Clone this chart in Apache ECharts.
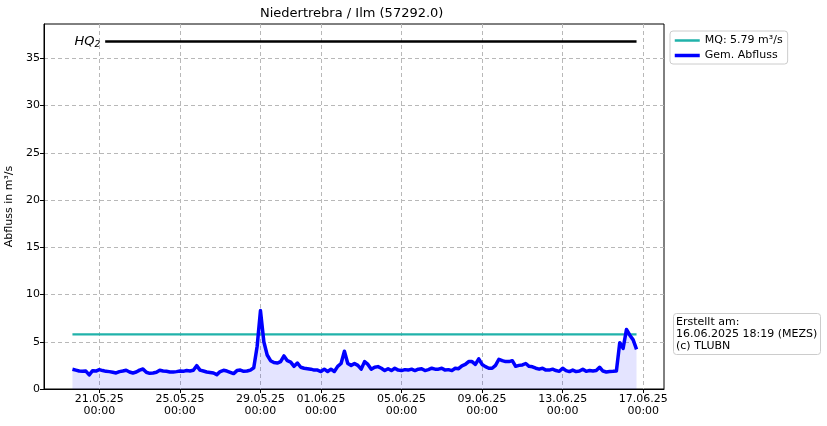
<!DOCTYPE html>
<html>
<head>
<meta charset="utf-8">
<script src="https://cdn.jsdelivr.net/npm/echarts@6/dist/echarts.min.js"></script>
<style>
html,body{margin:0;padding:0;background:#fff;}
#c{width:827px;height:426px;}
</style>
</head>
<body>
<div id="c"></div>
<script>
// ---- data ----
const titleText = 'Niedertrebra / Ilm (57292.0)';
const creditText = 'Erstellt am:\n16.06.2025 18:19 (MEZS)\n(c) TLUBN';
const mqName = 'MQ: 5.79 m³/s';
const flowName = 'Gem. Abfluss';
const mqValue = 5.79;
const hqValue = 36.8;
const yMax = 38.64;
const yTicks = [0, 5, 10, 15, 20, 25, 30, 35];
const xTickDates = ['2025-05-21', '2025-05-25', '2025-05-29', '2025-06-01', '2025-06-05', '2025-06-09', '2025-06-13', '2025-06-17'];
const xRange = ['2025-05-18T06:07:00Z', '2025-06-18T00:43:00Z'];
const flowStartTime = '2025-05-19T16:00:00Z';
const flowStepHours = 4;
const hqStartTime = '2025-05-21T07:00:00Z';
const flowValues = [
  2.09, 2.0, 1.9, 1.87, 1.9, 1.5, 1.94, 1.9, 2.05, 1.95,
  1.87, 1.84, 1.77, 1.7, 1.84, 1.9, 1.98, 1.8, 1.7, 1.8,
  2.0, 2.12, 1.77, 1.66, 1.7, 1.77, 1.98, 1.9, 1.87, 1.8,
  1.8, 1.84, 1.9, 1.87, 1.95, 1.9, 1.98, 2.47, 2.0, 1.9,
  1.8, 1.75, 1.7, 1.52, 1.85, 1.98, 1.9, 1.77, 1.63, 1.95,
  2.0, 1.87, 1.9, 2.0, 2.25, 4.5, 8.3, 5.0, 3.6, 3.0,
  2.8, 2.75, 2.9, 3.5, 3.0, 2.85, 2.4, 2.75, 2.3, 2.2,
  2.15, 2.1, 2.0, 2.0, 1.85, 2.1, 1.85, 2.1, 1.85, 2.4,
  2.7, 4.0, 2.7, 2.5, 2.7, 2.5, 2.1, 2.9, 2.6, 2.1,
  2.3, 2.37, 2.2, 1.95, 2.15, 1.95, 2.2, 2.0, 1.95, 2.05,
  2.0, 2.1, 1.95, 2.1, 2.15, 1.95, 2.05, 2.2, 2.1, 2.1,
  2.2, 2.0, 2.05, 1.95, 2.2, 2.15, 2.45, 2.6, 2.9, 2.9,
  2.6, 3.2, 2.6, 2.37, 2.2, 2.2, 2.5, 3.15, 3.0, 2.9,
  2.9, 3.0, 2.4, 2.5, 2.55, 2.7, 2.4, 2.35, 2.2, 2.1,
  2.2, 2.0, 2.0, 2.1, 1.95, 1.87, 2.2, 1.95, 1.84, 2.0,
  1.84, 1.9, 2.1, 1.87, 1.95, 1.9, 1.95, 2.3, 1.9, 1.8,
  1.85, 1.87, 1.9, 4.9, 4.3, 6.3, 5.7, 5.2, 4.2
];

// ---- build ----
const t0 = Date.parse(flowStartTime);
const step = flowStepHours * 3600 * 1000;
const flowData = flowValues.map((v, i) => [t0 + i * step, v]);
const tEnd = flowData[flowData.length - 1][0];
const xTicks = xTickDates.map(d => Date.parse(d + 'T00:00:00Z'));
const pad = n => (n < 10 ? '0' : '') + n;
const fmtX = v => {
  const d = new Date(v);
  return pad(d.getUTCDate()) + '.' + pad(d.getUTCMonth() + 1) + '.' + pad(d.getUTCFullYear() % 100) + '\n' +
    pad(d.getUTCHours()) + ':' + pad(d.getUTCMinutes());
};
const gridLine = { show: true, lineStyle: { color: '#b8b8b8', width: 1, type: [4, 3] } };
const font = 'DejaVu Sans';

const chart = echarts.init(document.getElementById('c'), null, { renderer: 'canvas' });
chart.setOption({
  animation: false,
  backgroundColor: '#fff',
  textStyle: { fontFamily: font },
  title: [
    { text: titleText, left: 255, top: 2, textStyle: { fontFamily: font, fontSize: 13, fontWeight: 'normal', color: '#000' } },
    { text: creditText, left: 673, top: 313, borderColor: '#cccccc', borderWidth: 1, borderRadius: 3,
      padding: [3, 4, 3, 3], textStyle: { fontFamily: font, fontSize: 11, lineHeight: 12, fontWeight: 'normal', color: '#000' } }
  ],
  legend: {
    left: 670, top: 31, orient: 'vertical', itemWidth: 25, itemHeight: 10, itemGap: 4,
    padding: [4, 5, 3, 3], borderColor: '#cccccc', borderWidth: 1, borderRadius: 3,
    textStyle: { fontFamily: font, fontSize: 11, color: '#000' },
    itemStyle: { opacity: 0 },
    data: [
      { name: mqName, lineStyle: { width: 2.5 } },
      { name: flowName, lineStyle: { width: 3.5 } }
    ]
  },
  grid: { left: 44, right: 163, top: 24, bottom: 37, show: true, borderColor: '#000', borderWidth: 1, containLabel: false, outerBoundsMode: 'none' },
  xAxis: {
    type: 'value', min: Date.parse(xRange[0]), max: Date.parse(xRange[1]),
    axisLine: { show: true, lineStyle: { color: '#000', width: 1 } },
    axisTick: { show: true, customValues: xTicks, length: 4, lineStyle: { color: '#000' } },
    axisLabel: { customValues: xTicks, formatter: fmtX, color: '#000', fontSize: 11, lineHeight: 12, margin: 4, fontFamily: font, hideOverlap: false },
    splitLine: gridLine
  },
  yAxis: {
    type: 'value', min: 0, max: yMax,
    name: 'Abfluss in m³/s', nameLocation: 'middle', nameGap: 26, nameRotate: 90,
    nameTextStyle: { fontFamily: font, fontSize: 11, color: '#000' },
    axisLine: { show: true, lineStyle: { color: '#000', width: 1 } },
    axisTick: { show: true, customValues: yTicks, length: 4, lineStyle: { color: '#000' } },
    axisLabel: { customValues: yTicks, color: '#000', fontSize: 11, margin: 4, fontFamily: font },
    splitLine: gridLine
  },
  series: [
    {
      name: 'HQ', type: 'line', showSymbol: true, symbol: 'circle', symbolSize: 0,
      lineStyle: { color: '#000', width: 2.5 }, itemStyle: { color: '#000' },
      data: [
        { value: [Date.parse(hqStartTime), hqValue],
          label: { show: true, position: 'left', distance: 5, formatter: '{i|HQ}{s|2}',
            rich: { i: { fontFamily: font, fontStyle: 'italic', fontSize: 13, color: '#000' },
                    s: { fontFamily: font, fontStyle: 'italic', fontSize: 9, color: '#000', verticalAlign: 'bottom', padding: [6, 0, 0, 0] } } } },
        [tEnd, hqValue]
      ],
      z: 3
    },
    {
      name: mqName, type: 'line', showSymbol: false, symbol: 'none',
      lineStyle: { color: '#20b2aa', width: 2.2 }, itemStyle: { color: '#20b2aa' },
      data: [[t0, mqValue], [tEnd, mqValue]], z: 3
    },
    {
      name: flowName, type: 'line', showSymbol: false, symbol: 'none',
      lineStyle: { color: '#0000ff', width: 3.5, join: 'round' }, itemStyle: { color: '#0000ff' },
      areaStyle: { color: 'rgba(0,0,255,0.15)', origin: 'start' },
      data: flowData, z: 4
    }
  ]
});
</script>
</body>
</html>
